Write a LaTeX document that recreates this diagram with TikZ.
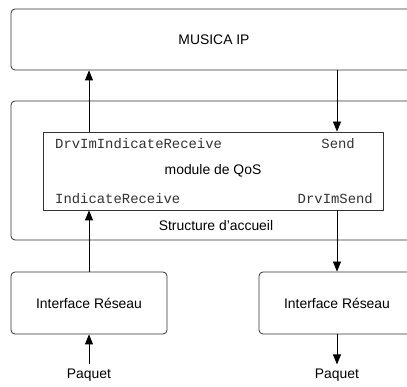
\documentclass[tikz,border=0pt]{standalone}
\usepackage{fontspec}
\setmainfont{Liberation Sans}
\setmonofont{Liberation Mono}
\usetikzlibrary{positioning,calc,arrows.meta}

\begin{document}
\begin{tikzpicture}
            [
            x=1pt, y=-1pt,
            bloc/.style={draw=black!80, line width=0.8pt, rounded corners=4pt,
                font=\fontsize{13.9}{16}\selectfont},
            module/.style={draw=black!80, line width=0.8pt, fill=white,
                font=\fontsize{13.9}{16}\selectfont},
            prim/.style={font=\ttfamily\fontsize{13.9}{16}\selectfont,
                text=black!80, inner sep=0pt},
            txt/.style={font=\fontsize{13.9}{16}\selectfont, inner sep=4pt},
            fleche/.style={-{Triangle[length=10pt,width=8pt]}, line width=0.8pt}
            ]

            \useasboundingbox (0,0) rectangle (407,387);
            \clip (0,0) rectangle (407,387);

            \node (musica) [bloc, minimum width=406pt, minimum height=61pt] at (214,39.5) {MUSICA IP};
            \node (accueil) [bloc, minimum width=406pt, minimum height=139pt] at (214,170.5) {};
            \node (titre) [txt] at (216,226) {Structure d'accueil};

            % module inside the host structure
            \node (qos) [module, minimum width=340pt, minimum height=78pt] at (213,171) {module de QoS};
            \node (drvind) [prim, anchor=west] at (55,144) {DrvImIndicateReceive};
            \node (send) [prim, anchor=east] at (355,144) {Send};
            \node (ind) [prim, anchor=west] at (55,199) {IndicateReceive};
            \node (drvsend) [prim, anchor=east] at (373,199) {DrvImSend};

            % network interfaces
            \node (resL) [bloc, minimum width=156pt, minimum height=62pt] at (89,303) {Interface Réseau};
            \node (resR) [bloc, minimum width=156pt, minimum height=62pt] at (337,303) {Interface Réseau};
            \node (paqL) [txt, below=30pt of resL] {Paquet};
            \node (paqR) [txt, below=30pt of resR] {Paquet};

            \draw [fleche] (qos.north -| resL) -- (musica.south -| resL);
            \draw [fleche] (musica.south -| resR) -- (qos.north -| resR);
            \draw [fleche] (resL.north) -- (qos.south -| resL);
            \draw [fleche] (qos.south -| resR) -- (resR.north);
            \draw [fleche] (paqL) -- (resL.south);
            \draw [fleche] (resR.south) -- (paqR);

        \end{tikzpicture}
\end{document}
